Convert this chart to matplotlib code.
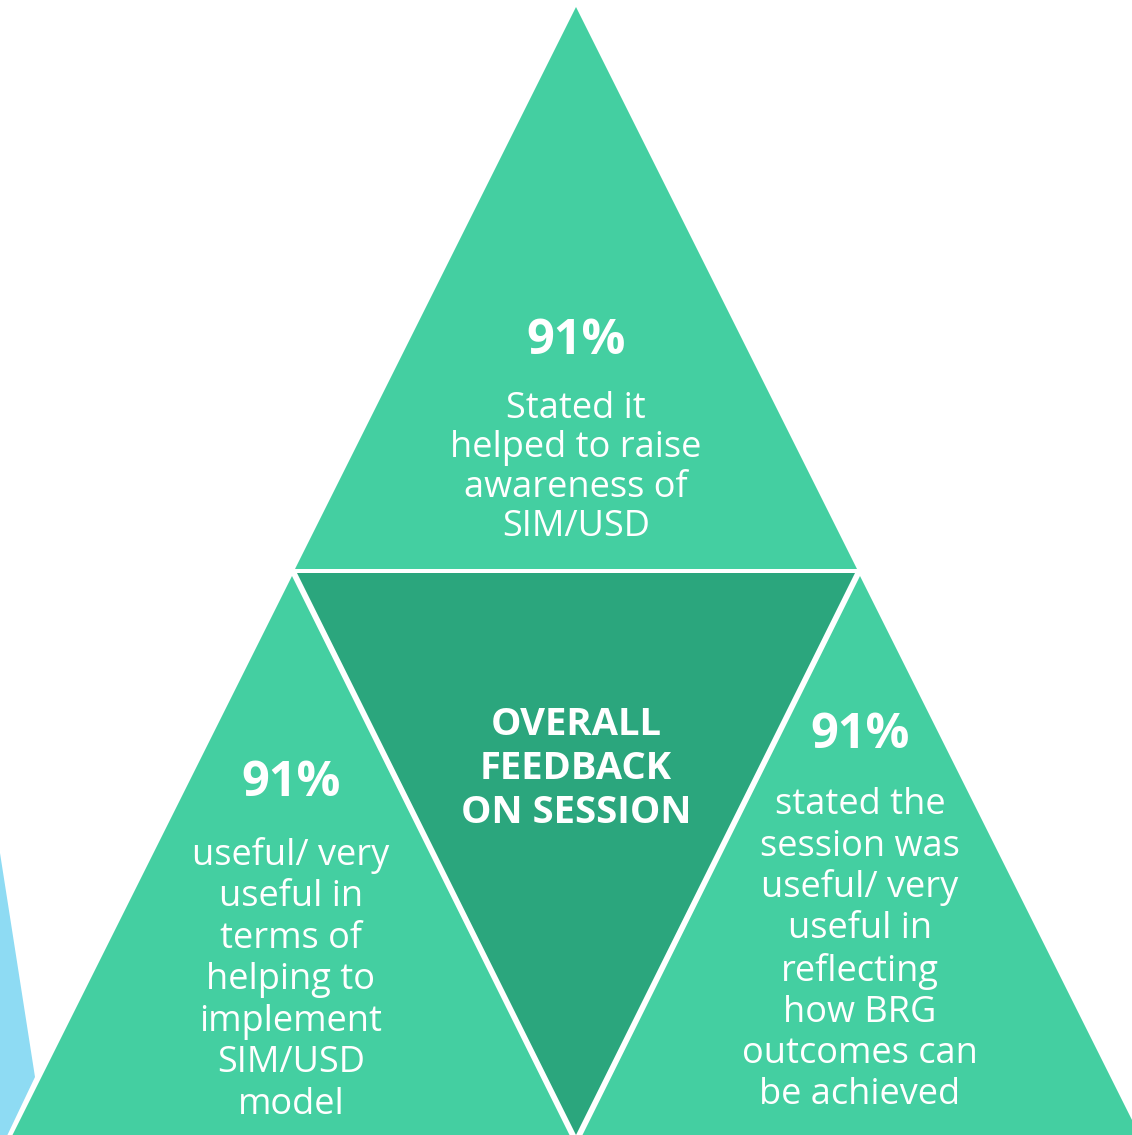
import matplotlib.pyplot as plt
from matplotlib.patches import Polygon

W, H = 1132, 1135

light = "#44cfa1"
dark = "#2ba67d"
blue = "#8edbf3"

# shapes in pixel coords (y down)
top_tri = [(576, 7), (295, 569), (857, 569)]
mid_tri = [(297, 573), (855, 573), (576, 1135)]
left_tri = [(292, 576), (11, 1138), (571, 1138)]
right_tri = [(860, 576), (581, 1138), (1141, 1138)]
blue_shape = [(-5, 821), (35, 1077), (6, 1138), (-5, 1138)]

pct = "91%"
top_lines = ["Stated it", "helped to raise", "awareness of", "SIM/USD"]
left_lines = ["useful/ very", "useful in", "terms of", "helping to",
              "implement", "SIM/USD", "model"]
right_lines = ["stated the", "session was", "useful/ very", "useful in",
               "reflecting", "how BRG", "outcomes can", "be achieved"]
mid_lines = ["OVERALL", "FEEDBACK", "ON SESSION"]

fig = plt.figure(figsize=(W / 100, H / 100), dpi=100)
ax = fig.add_axes([0, 0, 1, 1])
ax.set_xlim(0, W)
ax.set_ylim(H, 0)
ax.axis("off")

ax.add_patch(Polygon(blue_shape, closed=True, fc=blue, ec="none"))
for pts, c in [(top_tri, light), (mid_tri, dark), (left_tri, light), (right_tri, light)]:
    ax.add_patch(Polygon(pts, closed=True, fc=c, ec="none"))

font = "Open Sans"
body_size = 26
pct_size = 35


def block(x, y_pct, y0, lines, step=41.5):
    ax.text(x, y_pct, pct, ha="center", va="center", color="white",
            fontsize=pct_size, fontweight="bold", family=font)
    for i, s in enumerate(lines):
        ax.text(x, y0 + i * step, s, ha="center", va="center", color="white",
                fontsize=body_size, family=font)


block(576, 342, 409, top_lines, step=39.5)
block(291, 783, 856, left_lines)
block(860, 735, 805, right_lines)

for i, s in enumerate(mid_lines):
    ax.text(576, 725 + i * 44, s, ha="center", va="center", color="white",
            fontsize=27.5, fontweight="bold", family=font)

fig.savefig("out.png", dpi=100)
